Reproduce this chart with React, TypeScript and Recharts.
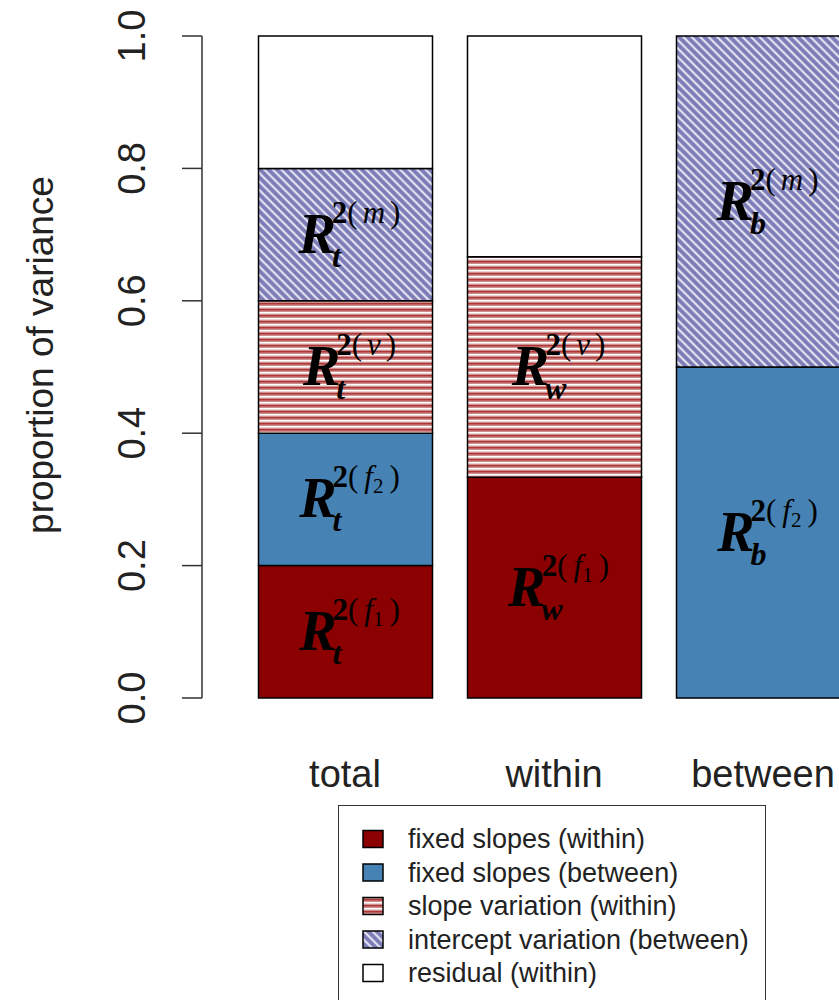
import React from "react";
import { BarChart, Bar, XAxis, YAxis, LabelList, Legend, Label } from "recharts";

// categories and their R^2 subscripts
const categories = ["total", "within", "between"];
const subscripts = ["t", "w", "b"];

// proportion of variance per component
const fixedWithin = [0.2, 0.3333, 0];
const fixedBetween = [0.2, 0, 0.5];
const slopeVariation = [0.2, 0.3333, 0];
const interceptVariation = [0.2, 0, 0.5];
const residual = [0.2, 0.3334, 0];

const yTicks = [0, 0.2, 0.4, 0.6, 0.8, 1];

const legendLabels = [
  "fixed slopes (within)",
  "fixed slopes (between)",
  "slope variation (within)",
  "intercept variation (between)",
  "residual (within)",
];

const data = categories.map((name, i) => ({
  name,
  f1: fixedWithin[i],
  f2: fixedBetween[i],
  v: slopeVariation[i],
  m: interceptVariation[i],
  res: residual[i],
}));

const SANS = "'Liberation Sans', Arial, sans-serif";
const SERIF = "'Liberation Serif', 'Times New Roman', serif";
const TEXT = "#222";

const series = [
  { key: "f1", fill: "#8B0000", sup: "f1" },
  { key: "f2", fill: "#4682B4", sup: "f2" },
  { key: "v", fill: "url(#slopePat)", sup: "v" },
  { key: "m", fill: "url(#interceptPat)", sup: "m" },
  { key: "res", fill: "#ffffff", sup: "" },
];

// approximate advance of the subscript letter at 32px bold italic serif
const subAdvance: Record<string, number> = { t: 9, w: 21, b: 16 };

const MathLabel = (props: any) => {
  const { x, y, width, height, value, sup } = props;
  if (!sup || !height || Math.abs(height) < 1) return null;
  const top = height < 0 ? y + height : y;
  const cx = x + width / 2 + 4;
  const cy = top + Math.abs(height) / 2;
  const base = cy + 18;
  const idx = categories.indexOf(value);
  const sub = subscripts[idx < 0 ? 0 : idx];
  let supBody: React.ReactNode;
  if (sup === "f1" || sup === "f2") {
    supBody = (
      <>
        <tspan fontSize={31} fontStyle="italic" dx={6}>f</tspan>
        <tspan fontSize={21} dy={6}>{sup === "f1" ? "1" : "2"}</tspan>
        <tspan fontSize={31} dy={-6} dx={6}>)</tspan>
      </>
    );
  } else {
    supBody = (
      <>
        <tspan fontSize={31} fontStyle="italic" dx={5}>{sup}</tspan>
        <tspan fontSize={31} dx={5}>)</tspan>
      </>
    );
  }
  return (
    <text x={cx} y={base} textAnchor="middle" fontFamily={SERIF} fill="#000">
      <tspan fontSize={56} fontWeight="bold" fontStyle="italic">R</tspan>
      <tspan fontSize={32} fontWeight="bold" fontStyle="italic" dx={-4} dy={14}>{sub}</tspan>
      <tspan fontSize={31} fontWeight="bold" dx={-subAdvance[sub]} dy={-44}>2</tspan>
      <tspan fontSize={31}>(</tspan>
      {supBody}
    </text>
  );
};

const YTick = ({ y, payload }: any) => (
  <text
    x={145}
    y={y}
    transform={`rotate(-90 145 ${y})`}
    textAnchor="middle"
    fontSize={38}
    fontFamily={SANS}
    fill={TEXT}
  >
    {Number(payload.value).toFixed(1)}
  </text>
);

const XTick = ({ x, payload }: any) => (
  <text x={x} y={787} textAnchor="middle" fontSize={38} fontFamily={SANS} fill={TEXT}>
    {payload.value}
  </text>
);

const YLabel = () => (
  <text
    x={53}
    y={355}
    transform="rotate(-90 53 355)"
    textAnchor="middle"
    fontSize={37}
    fontFamily={SANS}
    fill={TEXT}
  >
    proportion of variance
  </text>
);

const LegendBox = () => (
  <div
    style={{
      width: 428,
      height: 200,
      border: "1.5px solid #333",
      boxSizing: "border-box",
      background: "#fff",
    }}
  >
    <svg width={425} height={197}>
      {legendLabels.map((label, i) => {
        const cy = 33 + i * 33.5;
        return (
          <g key={label}>
            <rect x={24} y={cy - 8.5} width={20} height={17} fill={series[i].fill} stroke="#000" strokeWidth={1.5} />
            <text x={69} y={cy + 9} fontSize={27} fontFamily={SANS} fill={TEXT}>
              {label}
            </text>
          </g>
        );
      })}
    </svg>
  </div>
);

export default function App() {
  return (
    <div style={{ width: 839, height: 1000, overflow: "hidden" }}>
      <style>{"html,body{margin:0;overflow:hidden;background:#fff}"}</style>
      <BarChart
        width={870}
        height={1000}
        data={data}
        margin={{ top: 36, right: 2.5, bottom: 0, left: 0 }}
      >
        <defs>
          <pattern id="slopePat" patternUnits="userSpaceOnUse" width={8} height={6}>
            <rect x={0} y={0} width={8} height={6} fill="#cf8e8e" />
            <rect x={0} y={0} width={8} height={1.6} fill="#ffffff" />
            <rect x={0} y={3.2} width={8} height={1.2} fill="#a52020" />
          </pattern>
          <pattern
            id="interceptPat"
            patternUnits="userSpaceOnUse"
            width={6}
            height={6}
            patternTransform="rotate(-45)"
          >
            <rect x={0} y={0} width={6} height={6} fill="#8787bf" />
            <line x1={1} y1={0} x2={1} y2={6} stroke="#ffffff" strokeWidth={1.5} />
            <line x1={4} y1={0} x2={4} y2={6} stroke="#5555a0" strokeWidth={0.7} strokeOpacity={0.7} />
          </pattern>
        </defs>
        <XAxis
          dataKey="name"
          axisLine={false}
          tickLine={false}
          tickSize={0}
          tickMargin={0}
          height={302}
          padding={{ left: 38.5, right: 0 }}
          tick={<XTick />}
          interval={0}
        />
        <YAxis
          type="number"
          domain={[0, 1]}
          ticks={yTicks}
          width={202}
          tickSize={20}
          tickMargin={0}
          axisLine={{ stroke: "#333", strokeWidth: 1.5 }}
          tickLine={{ stroke: "#333", strokeWidth: 1.5 }}
          tick={<YTick />}
        >
          <Label content={<YLabel />} />
        </YAxis>
        {series.map((s) => (
          <Bar
            key={s.key}
            dataKey={s.key}
            stackId="a"
            fill={s.fill}
            stroke="#000"
            strokeWidth={1.5}
            barSize={174}
            isAnimationActive={false}
          >
            <LabelList dataKey="name" content={<MathLabel sup={s.sup} />} />
          </Bar>
        ))}
        <Legend
          layout="vertical"
          align="center"
          verticalAlign="middle"
          content={<LegendBox />}
          wrapperStyle={{ position: "absolute", left: 338, top: 805, width: 428, height: 200 }}
        />
      </BarChart>
    </div>
  );
}
